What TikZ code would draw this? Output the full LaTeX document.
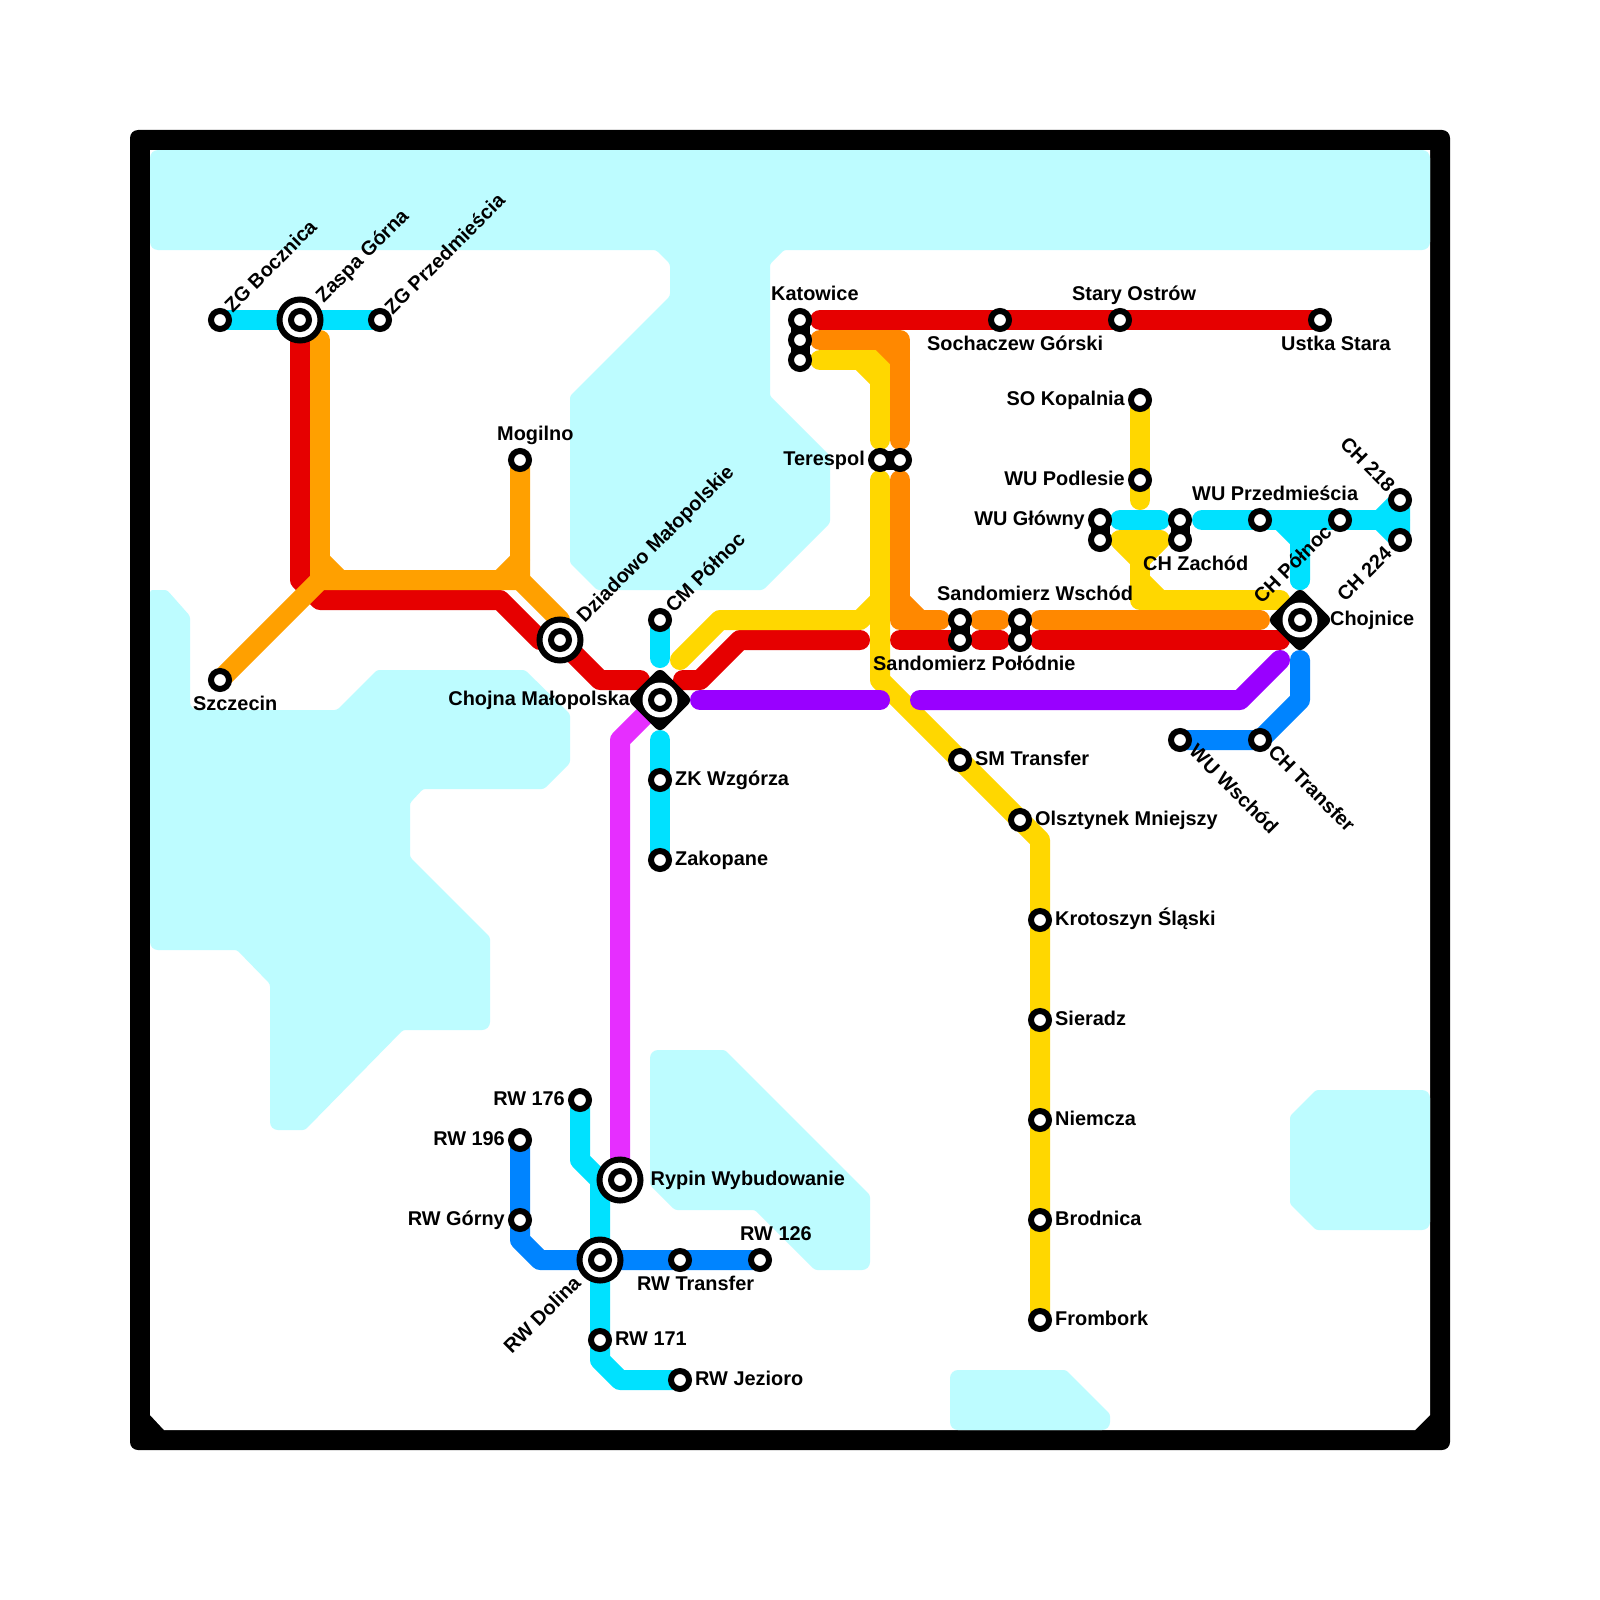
\documentclass[tikz,border=0pt]{standalone}
\usepackage{fontspec}
\setmainfont{Liberation Sans}
\definecolor{water}{HTML}{BDFCFF}
\definecolor{cRed}{HTML}{E60000}
\definecolor{cOrange}{HTML}{FFA000}
\definecolor{cDark}{HTML}{FF8800}
\definecolor{cYellow}{HTML}{FFD700}
\definecolor{cCyan}{HTML}{00E1FF}
\definecolor{cBlue}{HTML}{0084FF}
\definecolor{cPurple}{HTML}{9900FF}
\definecolor{cMagenta}{HTML}{E62EFF}
\tikzset{
  wat/.style={fill=water,rounded corners=2.5pt},
  rr/.style={rounded corners=8pt},
  rs/.style={rounded corners=2.5pt},
  ln/.style={line width=20pt,line cap=round,line join=round},
  red/.style={ln,draw=cRed},
  org/.style={ln,draw=cOrange},
  dor/.style={ln,draw=cDark},
  yel/.style={ln,draw=cYellow},
  cya/.style={ln,draw=cCyan},
  blu/.style={ln,draw=cBlue},
  pur/.style={ln,draw=cPurple},
  mag/.style={ln,draw=cMagenta},
  stn/.style={circle,draw=black,fill=white,line width=6pt,minimum size=18pt,inner sep=0pt},
  ring/.style={circle,draw=black,fill=white,line width=6pt,minimum size=41pt,inner sep=0pt},
  dia/.style={rectangle,fill=black,rounded corners=6pt,rotate=45,minimum size=46pt,inner sep=0pt},
  halo/.style={circle,fill=white,minimum size=35pt,inner sep=0pt},
  bar/.style={line width=19pt,draw=black},
  lab/.style={inner sep=0pt,text height=14.5pt,text depth=0pt,font=\fontsize{19.9}{20}\selectfont\bfseries},
  lw/.style={lab,anchor=west},
  le/.style={lab,anchor=east},
}
\begin{document}
\begin{tikzpicture}[x=1pt,y=-1pt]
\useasboundingbox (0,0) rectangle (1600,1600);
\fill[white] (0,0) rectangle (1600,1600);
% frame
\fill[black,rounded corners=8pt] (130,130) rectangle (1450,1450);
\fill[white] (150,150) -- (1430,150) -- (1430,1415) -- (1415,1430) -- (164,1430) -- (150,1415) -- cycle;
% water
\path[wat] (700,150) [rr] -- (1430,150) -- (1430,250) [rs] -- (784,250) -- (770,264) -- (770,396) -- (830,456) -- (830,523) -- (763,590) -- (597,590) -- (570,563) -- (570,396) -- (670,296) -- (670,264) -- (656,250) -- (300,250) [rr] -- (150,250) -- (150,150) -- (700,150);
\path[wat] (150,700) -- (150,590) -- (167,590) -- (190,616) [rr] -- (190,710) [rs] -- (337,710) -- (377,670) -- (525,670) -- (570,714) -- (570,763) -- (544,789) -- (423,789) -- (410,803) -- (410,857) -- (490,937) [rr] -- (490,1030) [rs] -- (403,1030) -- (305,1130) [rr] -- (270,1130) [rs] -- (270,984) -- (237,950) [rr] -- (150,950) [rs] -- (150,700);
\path[wat] (700,1050) -- (725,1050) -- (870,1195) [rr] -- (870,1270) [rs] -- (815,1270) -- (755,1210) -- (675,1210) -- (650,1185) [rr] -- (650,1050) [rs] -- (700,1050);
\path[wat] (1000,1370) -- (1066,1370) -- (1110,1414) [rr] -- (1110,1430) -- (950,1430) -- (950,1370) [rs] -- (1000,1370);
\path[wat] (1350,1090) [rr] -- (1430,1090) -- (1430,1230) [rs] -- (1350,1230) -- (1316,1230) -- (1290,1204) -- (1290,1116) -- (1316,1090) -- (1350,1090);
% station positions
\foreach \n/\x/\y in {zgb/220/320,zas/300/320,zgp/380/320,szc/220/680,mog/520/460,dzi/560/640,cmp/660/620,cho/660/700,zkw/660/780,zak/660/860,ryp/620/1180,rwa/580/1100,rwb/520/1140,rwg/520/1220,rwd/600/1260,rwt/680/1260,rwc/760/1260,rwe/600/1340,rwj/680/1380,katA/800/320,katB/800/340,katC/800/360,soc/1000/320,sta/1120/320,ust/1320/320,terA/880/460,terB/900/460,swA/960/620,swB/960/640,spA/1020/620,spB/1020/640,sok/1140/400,wup/1140/480,wugA/1100/520,wugB/1100/540,chzA/1180/520,chzB/1180/540,wpr/1260/520,chp/1340/520,cha/1400/500,chb/1400/540,chj/1300/620,cht/1260/740,wuw/1180/740,smt/960/760,ols/1020/820,kro/1040/920,sie/1040/1020,nie/1040/1120,bro/1040/1220,fro/1040/1320}
  {\coordinate (\n) at (\x,\y);}
% lines: red, orange
\draw[red] (zas) -- (300,580) -- (320,600) -- (500,600) -- (540,640) -- (dzi) -- (600,680) -- (640,680);
\draw[red] (683,680) -- (700,680) -- (740,640) -- (860,640);
\draw[red] (820,320) -- (ust);
\draw[red] (900,640) -- (swB);
\draw[red] (980,640) -- (1000,640);
\draw[red] (1040,640) -- (1280,640);
\draw[org] (320,340) -- (320,580);
\draw[org] (szc) -- (320,580) -- (520,580) -- (mog);
\draw[org] (320,560) -- (340,580);
\draw[org] (500,580) -- (520,560);
\draw[org] (520,580) -- (560,620);
% yellow
\draw[yel] (820,360) -- (880,360) -- (880,440);
\draw[yel] (860,360) -- (880,380);
\draw[yel] (880,480) -- (880,680) -- (ols) -- (1040,840) -- (fro);
\draw[yel] (680,660) -- (720,620) -- (860,620) -- (880,600);
\draw[yel] (sok) -- (1140,500);
\draw[yel] (1120,540) -- (1160,540) -- (1140,560) -- (1120,540);
\draw[yel] (1140,560) -- (1140,600) -- (1280,600);
\draw[yel] (1140,580) -- (1160,600);
% dark orange
\draw[dor] (820,340) -- (900,340) -- (900,440);
\draw[dor] (880,340) -- (900,360);
\draw[dor] (900,480) -- (900,620) -- (940,620);
\draw[dor] (900,600) -- (920,620);
\draw[dor] (980,620) -- (1000,620);
\draw[dor] (1040,620) -- (1260,620);
% cyan
\draw[cya] (zgb) -- (zgp);
\draw[cya] (cmp) -- (660,658);
\draw[cya] (660,740) -- (zak);
\draw[cya] (rwa) -- (580,1160) -- (600,1180) -- (600,1360) -- (620,1380) -- (rwj);
\draw[cya] (1120,520) -- (1160,520);
\draw[cya] (1202,520) -- (1400,520);
\draw[cya] (1280,520) -- (1300,540) -- (1300,580);
\draw[cya] (1300,520) -- (1300,580);
\draw[cya] (1380,520) -- (cha) -- (chb) -- cycle;
% blue
\draw[blu] (rwb) -- (520,1240) -- (540,1260) -- (rwc);
\draw[blu] (wuw) -- (cht) -- (1300,700) -- (1300,660);
% magenta, purple
\draw[mag] (645,715) -- (620,740) -- (ryp);
\draw[pur] (700,700) -- (880,700);
\draw[pur] (920,700) -- (1240,700) -- (1280,660);
% linked stations
\draw[bar] (katA) -- (katC);
\draw[bar] (terA) -- (terB);
\draw[bar] (swA) -- (swB);
\draw[bar] (spA) -- (spB);
\draw[bar] (wugA) -- (wugB);
\draw[bar] (chzA) -- (chzB);
% plain stations
\foreach \n in {zgb,zgp,szc,mog,cmp,zkw,zak,rwa,rwb,rwg,rwt,rwc,rwe,rwj,katA,katB,katC,soc,sta,ust,terA,terB,swA,swB,spA,spB,sok,wup,wugA,wugB,chzA,chzB,wpr,chp,cha,chb,cht,wuw,smt,ols,kro,sie,nie,bro,fro}
  {\node[stn] (s\n) at (\n) {};}
% interchanges
\foreach \n in {zas,dzi,ryp,rwd}
  {\node[ring] (r\n) at (\n) {}; \node[stn] (s\n) at (\n) {};}
\foreach \n in {cho,chj}
  {\node[dia] (d\n) at (\n) {}; \node[halo] (h\n) at (\n) {}; \node[stn] (s\n) at (\n) {};}
% labels
\node[lw,rotate=45] (l1) at (227.5,308.5) {ZG Bocznica};
\node[lw,rotate=45] (l2) at (318.5,298.5) {Zaspa Górna};
\node[lw,rotate=45] (l3) at (387.5,310.5) {ZG Przedmieścia};
\node[lw,rotate=45] (l4) at (579.5,618.5) {Dziadowo Małopolskie};
\node[lw,rotate=45] (l5) at (668.5,608.5) {CM Północ};
\node[le,rotate=45] (l6) at (1388,549.5) {CH 224};
\node[le,rotate=45] (l7) at (1328,528) {CH Północ};
\node[le,rotate=-45] (l8) at (1392,488) {CH 218};
\node[le,rotate=45] (l9) at (577,1279) {RW Dolina};
\node[lw,rotate=-45] (l10) at (1193,747.5) {WU Wschód};
\node[lw,rotate=-45] (l11) at (1272,748) {CH Transfer};
\node[lw] (l12) at (193,703) {Szczecin};
\node[lw] (l13) at (497,433) {Mogilno};
\node[le] (l14) at (630,698) {Chojna Małopolska};
\node[lw] (l15) at (675,778) {ZK Wzgórza};
\node[lw] (l16) at (675,858) {Zakopane};
\node[lw] (l17) at (650.5,1178) {Rypin Wybudowanie};
\node[le] (l18) at (565,1098) {RW 176};
\node[le] (l19) at (505,1138) {RW 196};
\node[le] (l20) at (505,1218) {RW Górny};
\node[lw] (l21) at (637,1283) {RW Transfer};
\node[lw] (l22) at (740,1233) {RW 126};
\node[lw] (l23) at (615,1338) {RW 171};
\node[lw] (l24) at (695,1378) {RW Jezioro};
\node[lw] (l25) at (771,293) {Katowice};
\node[lw] (l26) at (927,343) {Sochaczew Górski};
\node[lw] (l27) at (1072,293) {Stary Ostrów};
\node[lw] (l28) at (1281,343) {Ustka Stara};
\node[le] (l29) at (1125,398) {SO Kopalnia};
\node[le] (l30) at (1125,478) {WU Podlesie};
\node[le] (l31) at (1085,518) {WU Główny};
\node[lw] (l32) at (1143,563) {CH Zachód};
\node[lw] (l33) at (1192,493) {WU Przedmieścia};
\node[le] (l34) at (865,458) {Terespol};
\node[lw] (l35) at (937,593) {Sandomierz Wschód};
\node[lw] (l36) at (873,663) {Sandomierz Połódnie};
\node[lw] (l37) at (1330,618) {Chojnice};
\node[lw] (l38) at (975,758) {SM Transfer};
\node[lw] (l39) at (1035,818) {Olsztynek Mniejszy};
\node[lw] (l40) at (1055,918) {Krotoszyn Śląski};
\node[lw] (l41) at (1055,1018) {Sieradz};
\node[lw] (l42) at (1055,1118) {Niemcza};
\node[lw] (l43) at (1055,1218) {Brodnica};
\node[lw] (l44) at (1055,1318) {Frombork};
\end{tikzpicture}
\end{document}
